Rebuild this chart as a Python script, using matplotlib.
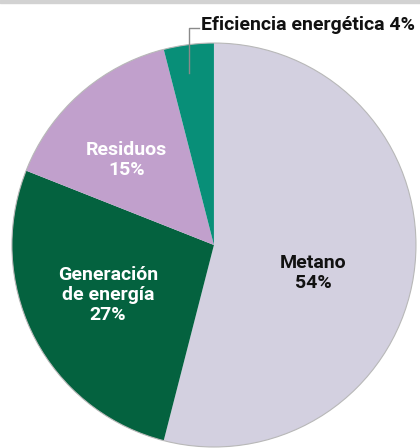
import matplotlib.pyplot as plt
from matplotlib.patches import Circle, Rectangle

labels = ['Metano\n54%', 'Generación\nde energía\n27%', 'Residuos\n15%', '']
values = [54, 27, 15, 4]
colors = ['#d3d0e0', '#04623f', '#c1a0cc', '#088f78']
text_colors = ['#111111', 'white', 'white', 'white']
callout = 'Eficiencia energética 4%'

plt.rcParams['font.family'] = ['Roboto', 'DejaVu Sans']

fig = plt.figure(figsize=(4.2, 4.48), dpi=100)
ax = fig.add_axes([0, 0, 1, 1])

wedges, _ = ax.pie(values, colors=colors, startangle=90, counterclock=False,
                   radius=1.0, center=(0, 0), frame=True,
                   wedgeprops=dict(linewidth=0))
ax.add_patch(Circle((0, 0), 1.0, fill=False, edgecolor='#b8b8b8', linewidth=0.8))

# label positions inside slices
label_pos = [(0.49, -0.139), (-0.525, -0.248), (-0.431, 0.421)]
for (x, y), lab, tc in zip(label_pos, labels[:3], text_colors[:3]):
    ax.text(x, y, lab, ha='center', va='center', color=tc, fontsize=14,
            fontweight='bold', linespacing=1.17)

# leader line for the small slice
ax.plot([-0.124, -0.124, -0.072], [0.85, 1.074, 1.074], color='#8a8a8a', lw=1.0)
ax.text(-0.064, 1.066, callout, ha='left', va='baseline', color='#111111',
        fontsize=14, fontweight='bold')

ax.set_xlim(-1.059, 1.020)
ax.set_ylim(-1.005, 1.213)
ax.set_aspect('auto')
ax.axis('off')

# thin gray rule along the top
fig.patches.append(Rectangle((0, 1 - 3 / 448), 1, 3 / 448, transform=fig.transFigure,
                             color='#d2d2d2', zorder=0))

fig.savefig('out.png', dpi=100)
